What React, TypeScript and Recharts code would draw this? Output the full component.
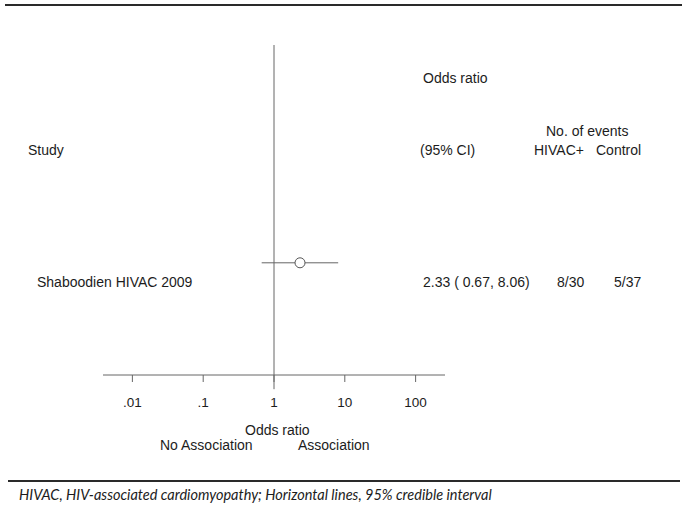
import {
  ComposedChart,
  ErrorBar,
  ReferenceLine,
  Scatter,
  XAxis,
  YAxis,
} from "recharts";

const studies = ["Shaboodien HIVAC 2009"];
const oddsRatios = [2.33];
const ciLower = [0.67];
const ciUpper = [8.06];
const eventsHivac = ["8/30"];
const eventsControl = ["5/37"];
const xTicks = [0.01, 0.1, 1, 10, 100];
const tickLabels = [".01", ".1", "1", "10", "100"];

const ROW_Y = 0.34;
const FONT = "'Liberation Sans', Arial, Helvetica, sans-serif";
const INK = "#1c1c1c";
const LINE = "#666666";

const rows = studies.map((study, i) => ({
  study,
  or: oddsRatios[i],
  y: ROW_Y,
  err: [oddsRatios[i] - ciLower[i], ciUpper[i] - oddsRatios[i]],
  label: `${oddsRatios[i].toFixed(2)} ( ${ciLower[i].toFixed(2)}, ${ciUpper[i].toFixed(2)})`,
}));

function Txt({ x, y, children, size = 14 }: { x: number; y: number; children: any; size?: number }) {
  return (
    <div
      style={{
        position: "absolute",
        left: x,
        top: y - 9,
        lineHeight: "18px",
        fontSize: size,
        fontFamily: FONT,
        color: INK,
        whiteSpace: "nowrap",
      }}
    >
      {children}
    </div>
  );
}

function OpenCircle(props: any) {
  return <circle cx={props.cx} cy={props.cy} r={5} fill="#ffffff" stroke="#555555" strokeWidth={1} />;
}

export default function App() {
  return (
    <div style={{ position: "absolute", left: 0, top: 0, width: 685, height: 512, background: "#fff" }}>
      <div style={{ position: "absolute", left: 5, top: 4, width: 677, height: 2, background: "#2a2a2a" }} />

      <ComposedChart
        width={685}
        height={512}
        data={rows}
        margin={{ top: 45, right: 240, bottom: 107, left: 103 }}
      >
        <XAxis
          type="number"
          dataKey="or"
          scale="log"
          domain={[Math.pow(10, -2.415), Math.pow(10, 2.415)]}
          ticks={xTicks}
          tickFormatter={(v: number) => tickLabels[xTicks.indexOf(v)] ?? String(v)}
          allowDataOverflow
          height={30}
          stroke={LINE}
          tickSize={7}
          tickMargin={15}
          tick={{ fill: INK, fontSize: 13.5, fontFamily: FONT }}
        />
        <YAxis type="number" dataKey="y" domain={[0, 1]} hide />
        <ReferenceLine
          segment={[
            { x: 1, y: 1 },
            { x: 1, y: -0.043 },
          ]}
          ifOverflow="visible"
          stroke={LINE}
        />
        <Scatter dataKey="y" fill="#fff" shape={<OpenCircle />} isAnimationActive={false}>
          <ErrorBar dataKey="err" direction="x" width={0} stroke={LINE} strokeWidth={1} isAnimationActive={false} />
        </Scatter>
      </ComposedChart>

      <Txt x={423} y={78}>Odds ratio</Txt>
      <Txt x={546} y={131}>No. of events</Txt>
      <Txt x={28} y={150}>Study</Txt>
      <Txt x={420} y={150}>(95% CI)</Txt>
      <Txt x={534} y={150}>HIVAC+</Txt>
      <Txt x={596} y={150}>Control</Txt>

      {rows.map((r, i) => (
        <div key={r.study}>
          <Txt x={37} y={282}>{r.study}</Txt>
          <Txt x={423} y={282}>{r.label}</Txt>
          <Txt x={557} y={282}>{eventsHivac[i]}</Txt>
          <Txt x={614} y={282}>{eventsControl[i]}</Txt>
        </div>
      ))}

      <Txt x={245} y={430}>Odds ratio</Txt>
      <Txt x={160} y={445}>No Association</Txt>
      <Txt x={298} y={445}>Association</Txt>

      <div style={{ position: "absolute", left: 8, top: 480, width: 672, height: 1.5, background: "#2a2a2a" }} />
      <div
        style={{
          position: "absolute",
          left: 19,
          top: 486,
          lineHeight: "18px",
          fontSize: 14.5,
          fontStyle: "italic",
          fontFamily: "Lato, 'Open Sans', sans-serif",
          color: INK,
          whiteSpace: "nowrap",
        }}
      >
        HIVAC, HIV-associated cardiomyopathy; Horizontal lines, 95% credible interval
      </div>
    </div>
  );
}
